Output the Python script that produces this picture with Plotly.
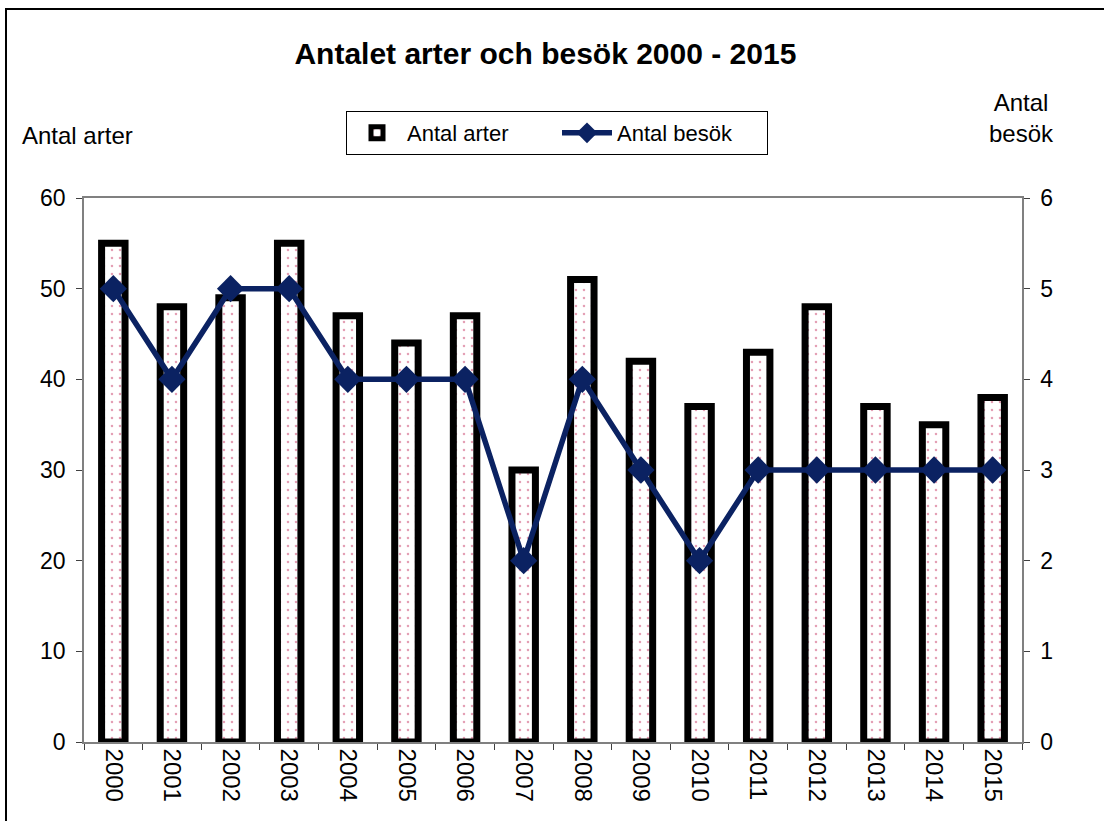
import plotly.graph_objects as go

years = [str(y) for y in range(2000, 2016)]
antal_arter = [55, 48, 49, 55, 47, 44, 47, 30, 51, 42, 37, 43, 48, 37, 35, 38]
antal_besok = [5, 4, 5, 5, 4, 4, 4, 2, 4, 3, 2, 3, 3, 3, 3, 3]

FONT = "Liberation Sans, Arial, sans-serif"
NAVY = "#0b2262"
AXC = "#808080"

fig = go.Figure()
fig.add_trace(go.Bar(
    x=years, y=antal_arter, name="Antal arter", width=0.4,
    marker=dict(color="white", line=dict(color="black", width=7),
                pattern=dict(shape=".", fgcolor="#c8406a", bgcolor="white", size=8, solidity=0.08)),
    yaxis="y",
))
fig.add_trace(go.Scatter(
    x=years, y=antal_besok, name="Antal besök", mode="lines+markers",
    line=dict(color=NAVY, width=5.5),
    marker=dict(symbol="diamond", size=21, color=NAVY),
    yaxis="y2",
))

W, H = 1104, 821
L, R, T, B = 84, 82, 198, 79
pw, ph = W - L - R, H - T - B

def px(x):
    return (x - L) / pw

def py(y):
    return (H - B - y) / ph

fig.update_layout(
    width=W, height=H,
    margin=dict(l=L, r=R, t=T, b=B),
    paper_bgcolor="white", plot_bgcolor="white",
    font=dict(family=FONT, size=22, color="black"),
    title=dict(text="<b>Antalet arter och besök 2000 - 2015</b>", x=0.494, xanchor="center",
               y=1 - 53 / H, yanchor="middle", xref="container", yref="container",
               font=dict(size=30, family=FONT, color="black")),
    showlegend=True,
    legend=dict(orientation="h", x=px(557), xanchor="center", y=py(111), yanchor="top",
                bordercolor="black", borderwidth=1, bgcolor="white",
                font=dict(size=22, family=FONT), entrywidth=145, itemwidth=50),
    bargap=0.5,
    xaxis=dict(type="category", range=[-0.5, 15.5], tickson="boundaries", ticks="outside", ticklen=6,
               tickcolor="#404040", tickangle=90, showline=True, linecolor=AXC, linewidth=1.5,
               mirror=True, showgrid=False, tickfont=dict(size=24)),
    yaxis=dict(range=[0, 60], dtick=10, ticks="outside", ticklen=6, tickcolor="#404040",
               showline=True, linecolor=AXC, linewidth=1.5, showgrid=False, zeroline=False,
               tickfont=dict(size=23), ticklabelstandoff=6),
    yaxis2=dict(range=[0, 6], dtick=1, ticks="outside", ticklen=6, tickcolor="#404040",
                overlaying="y", side="right", showline=True, linecolor=AXC, linewidth=1.5,
                showgrid=False, zeroline=False, tickfont=dict(size=23), ticklabelstandoff=6),
    annotations=[
        dict(text="Antal arter", xref="paper", yref="paper", x=px(20), y=py(135),
             xanchor="left", yanchor="middle", showarrow=False, font=dict(size=24)),
        dict(text="Antal<br>besök", xref="paper", yref="paper", x=px(1021), y=py(118),
             xanchor="center", yanchor="middle", showarrow=False, font=dict(size=24)),
    ],
    shapes=[
        dict(type="rect", xref="paper", yref="paper", x0=px(6), x1=px(1130), y0=py(9), y1=py(850),
             line=dict(color="black", width=2), fillcolor="rgba(0,0,0,0)", layer="below"),
    ],
)

fig.write_html("out.html", config={"displayModeBar": False},
               post_script="document.body.style.margin='0';document.body.style.overflow='hidden';")
